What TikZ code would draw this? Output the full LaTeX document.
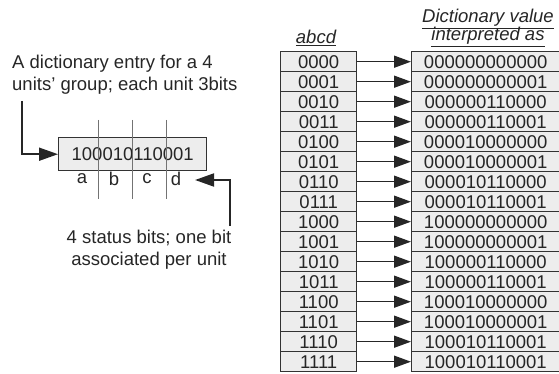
\documentclass[tikz,border=0pt]{standalone}
\usepackage{fontspec}
\setmainfont{Liberation Sans}
\usetikzlibrary{arrows.meta}
\begin{document}
\begin{tikzpicture}[x=1pt,y=-1pt,
  txt/.style={font=\fontsize{18.5}{22}\selectfont, text=black!85, inner sep=0pt},
  hdr/.style={txt, font=\fontsize{18.5}{22}\selectfont\itshape},
  cell/.style={txt, draw=black!80, fill=black!7, line width=1.4pt, minimum height=20pt, anchor=north west},
  lcell/.style={cell, minimum width=76pt},
  rcell/.style={cell, minimum width=148pt},
  link/.style={draw=black!85, line width=1.5pt, -{Triangle[length=17pt,width=12pt]}},
  bigarrow/.style={draw=black!85, line width=1.8pt, -{Triangle[length=19pt,width=13pt]}},
  divider/.style={draw=black!55, line width=1pt}
]
\useasboundingbox (0,0) rectangle (559,374);

% headers
\node[hdr, anchor=base] (h1) at (488,23) {\underline{Dictionary value}};
\node[hdr, anchor=base] (h2) at (488,41) {\underline{interpreted as}};
\node[hdr, anchor=base] (h3) at (316,44) {\underline{abcd}};

% table
\foreach \k/\v [count=\i from 0] in {
  0000/000000000000, 0001/000000000001, 0010/000000110000, 0011/000000110001,
  0100/000010000000, 0101/000010000001, 0110/000010110000, 0111/000010110001,
  1000/100000000000, 1001/100000000001, 1010/100000110000, 1011/100000110001,
  1100/100010000000, 1101/100010000001, 1110/100010110001, 1111/100010110001} {
  \node[lcell] (k\i) at (280,51+20*\i) {\k};
  \node[rcell] (v\i) at (411,51+20*\i) {\v};
  \draw[link] (k\i.east) -- (v\i.west);
}

% dictionary entry
\node[txt, draw=black!80, fill=black!7, line width=1.4pt, minimum width=148pt,
      minimum height=33pt, anchor=north west] (entry) at (58,137) {100010110001};
\draw[divider] (98,120) -- (98,199);
\draw[divider] (132,120) -- (132,199);
\draw[divider] (166,120) -- (166,199);
\node[txt] (la) at (82,179) {a};
\node[txt] (lb) at (114,179) {b};
\node[txt] (lc) at (147,179) {c};
\node[txt] (ld) at (176,179) {d};

% annotations
\node[txt, anchor=base west] (n1a) at (12,68.5) {A dictionary entry for a 4};
\node[txt, anchor=base west] (n1b) at (12,90.5) {units' group; each unit 3bits};
\node[txt, anchor=base] (n2a) at (149,243.5) {4 status bits; one bit};
\node[txt, anchor=base] (n2b) at (149,265.5) {associated per unit};

\coordinate (s1) at (22,101);
\draw[bigarrow] (s1) |- (entry.west);
\coordinate (s2) at (230,226);
\coordinate (t2) at (195,180);
\draw[bigarrow] (s2) |- (t2);
\end{tikzpicture}
\end{document}
